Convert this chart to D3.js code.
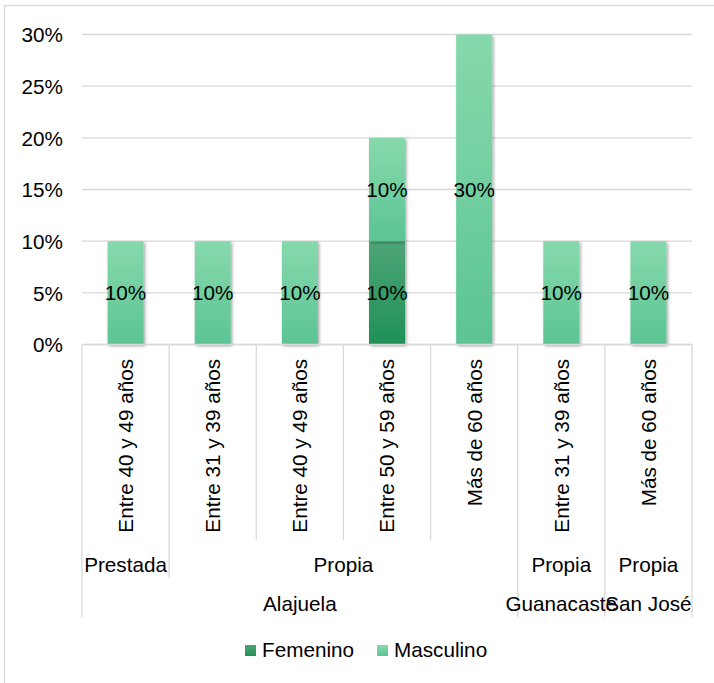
<!DOCTYPE html>
<html>
<head>
<meta charset="utf-8">
<script src="https://cdn.jsdelivr.net/npm/d3@7"></script>
<style>
  html, body { margin: 0; padding: 0; background: #fff; }
  text { font-family: "Liberation Sans", Arial, sans-serif; fill: #000; }
</style>
</head>
<body>
<svg id="chart" width="714" height="683"></svg>
<script>
// Age group, tenure and province for each column (three-level category axis)
const ageGroups = ["Entre 40 y 49 años", "Entre 31 y 39 años", "Entre 40 y 49 años",
                   "Entre 50 y 59 años", "Más de 60 años", "Entre 31 y 39 años", "Más de 60 años"];
const tenure = ["Prestada", "Propia", "Propia", "Propia", "Propia", "Propia", "Propia"];
const province = ["Alajuela", "Alajuela", "Alajuela", "Alajuela", "Alajuela", "Guanacaste", "San José"];

// Share of respondents by sex
const femenino  = [0, 0, 0, 0.10, 0, 0, 0];
const masculino = [0.10, 0.10, 0.10, 0.10, 0.30, 0.10, 0.10];

const yTicks = [0, 0.05, 0.10, 0.15, 0.20, 0.25, 0.30];
const seriesNames = ["Femenino", "Masculino"];

const svg = d3.select("#chart");
const FONT = 20.7;
const gridColor = "#d9d9d9";

// Gradients and bar shadow
const defs = svg.append("defs");
function vGrad(id, top, bottom) {
  const g = defs.append("linearGradient").attr("id", id)
    .attr("x1", 0).attr("y1", 0).attr("x2", 0).attr("y2", 1);
  g.append("stop").attr("offset", "0%").attr("stop-color", top);
  g.append("stop").attr("offset", "100%").attr("stop-color", bottom);
}
vGrad("gradMasc", "#86d9ad", "#5cc493");
vGrad("gradFem", "#4ea577", "#1f9058");
const sh = defs.append("filter").attr("id", "shadow")
  .attr("x", "-30%").attr("y", "-10%").attr("width", "160%").attr("height", "130%");
sh.append("feDropShadow").attr("dx", 1.5).attr("dy", 1.5).attr("stdDeviation", 1.8)
  .attr("flood-color", "#000").attr("flood-opacity", 0.35);

// Chart frame
svg.append("rect").attr("x", 4.5).attr("y", 5.5).attr("width", 720).attr("height", 700)
  .attr("fill", "none").attr("stroke", gridColor).attr("stroke-width", 1.3);

const plot = { left: 82, right: 692, top: 34.5, bottom: 344.5 };
const idx = d3.range(ageGroups.length);

const x = d3.scaleBand().domain(idx).range([plot.left, plot.right])
  .paddingInner(0.587).paddingOuter(0.2935);
const y = d3.scaleLinear().domain([0, 0.30]).range([plot.bottom, plot.top]);
const step = x.step();

// Horizontal gridlines
svg.append("g").selectAll("line").data(yTicks).join("line")
  .attr("x1", plot.left).attr("x2", plot.right)
  .attr("y1", d => y(d)).attr("y2", d => y(d))
  .attr("stroke", gridColor).attr("stroke-width", 1.3);

// Y axis labels
const yAxis = d3.axisLeft(y).tickValues(yTicks).tickFormat(d3.format(".0%")).tickSize(0).tickPadding(0);
const yG = svg.append("g").attr("transform", `translate(${plot.left - 19},0)`).call(yAxis);
yG.select(".domain").remove();
yG.selectAll("text").attr("font-size", FONT).attr("font-family", "Liberation Sans, Arial, sans-serif")
  .attr("fill", "#000").attr("dy", "0.36em");

// Stacked data
const rows = idx.map(i => ({ i, Femenino: femenino[i], Masculino: masculino[i] }));
const stacked = d3.stack().keys(seriesNames)(rows);
const fills = { Femenino: "url(#gradFem)", Masculino: "url(#gradMasc)" };

const barG = svg.append("g");
stacked.forEach(layer => {
  barG.append("g").attr("filter", "url(#shadow)")
    .selectAll("rect").data(layer.filter(d => d[1] - d[0] > 0)).join("rect")
    .attr("x", d => x(d.data.i)).attr("width", x.bandwidth())
    .attr("y", d => y(d[1])).attr("height", d => y(d[0]) - y(d[1]))
    .attr("fill", fills[layer.key]);
});

// Value labels
const labG = svg.append("g");
stacked.forEach(layer => {
  labG.selectAll(null).data(layer.filter(d => d[1] - d[0] > 0)).join("text")
    .attr("x", d => x(d.data.i) + x.bandwidth() / 2)
    .attr("y", d => y((d[0] + d[1]) / 2))
    .attr("dy", "0.36em").attr("text-anchor", "middle").attr("font-size", FONT)
    .text(d => d3.format(".0%")(d[1] - d[0]));
});

// Multi-level category axis
const rowBottom = [540, 578, 617];
const axisG = svg.append("g");
axisG.append("line").attr("x1", plot.left).attr("x2", plot.right)
  .attr("y1", plot.bottom).attr("y2", plot.bottom)
  .attr("stroke", gridColor).attr("stroke-width", 1.3);

const n = ageGroups.length;
d3.range(n + 1).forEach(b => {
  let yEnd;
  if (b === 0 || b === n || province[b] !== province[b - 1]) yEnd = rowBottom[2];
  else if (tenure[b] !== tenure[b - 1]) yEnd = rowBottom[1];
  else yEnd = rowBottom[0];
  const xb = plot.left + b * step;
  axisG.append("line").attr("x1", xb).attr("x2", xb)
    .attr("y1", plot.bottom).attr("y2", yEnd)
    .attr("stroke", gridColor).attr("stroke-width", 1.3);
});

// Level 1: rotated age-group labels
axisG.selectAll("text.age").data(idx).join("text").attr("class", "age")
  .attr("transform", i => `translate(${x(i) + x.bandwidth() / 2},359) rotate(-90)`)
  .attr("dy", "0.36em").attr("text-anchor", "end").attr("font-size", FONT)
  .text(i => ageGroups[i]);

// Group consecutive columns sharing the given keys
function groups(keyFn) {
  const out = [];
  idx.forEach(i => {
    const k = keyFn(i);
    const last = out[out.length - 1];
    if (last && last.key === k) last.end = i;
    else out.push({ key: k, start: i, end: i });
  });
  return out;
}

// Level 2: tenure
axisG.selectAll("text.ten").data(groups(i => province[i] + "|" + tenure[i])).join("text")
  .attr("class", "ten")
  .attr("x", g => plot.left + (g.start + g.end + 1) / 2 * step)
  .attr("y", 572).attr("text-anchor", "middle").attr("font-size", FONT)
  .text(g => tenure[g.start]);

// Level 3: province
axisG.selectAll("text.prov").data(groups(i => province[i])).join("text")
  .attr("class", "prov")
  .attr("x", g => plot.left + (g.start + g.end + 1) / 2 * step)
  .attr("y", 611).attr("text-anchor", "middle").attr("font-size", FONT)
  .text(g => province[g.start]);

// Legend
const legendX = [245, 377];
const leg = svg.append("g");
seriesNames.forEach((s, k) => {
  leg.append("rect").attr("x", legendX[k]).attr("y", 645).attr("width", 11).attr("height", 11)
    .attr("fill", fills[s]);
  leg.append("text").attr("x", legendX[k] + 17).attr("y", 657)
    .attr("font-size", FONT).text(s);
});
</script>
</body>
</html>
